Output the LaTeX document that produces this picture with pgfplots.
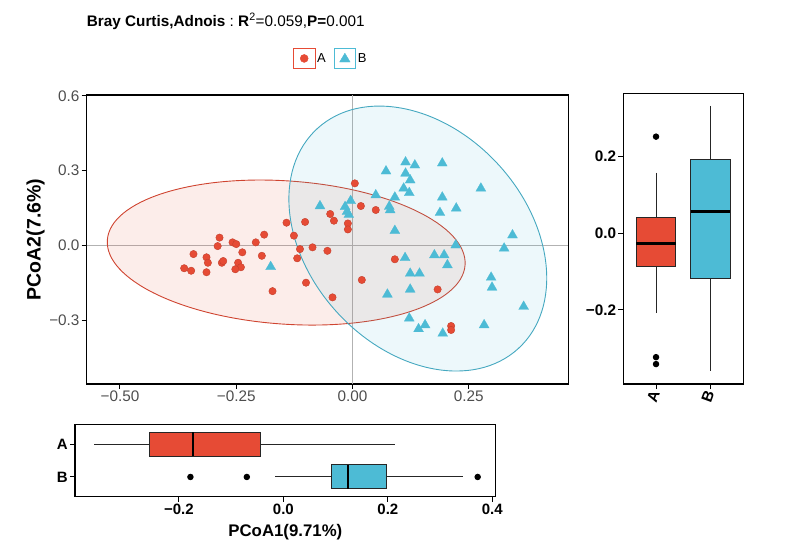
\documentclass[border=0pt]{standalone}
\usepackage{fontspec}
\setmainfont{Liberation Sans}
\usepackage{pgfplots}
\pgfplotsset{compat=1.18}
\usepgfplotslibrary{statistics}
\definecolor{cA}{HTML}{E64B35}
\definecolor{cB}{HTML}{4DBBD5}
\definecolor{txtgray}{HTML}{4D4D4D}

\pgfplotsset{
  ggframe/.style={
    scale only axis, anchor=north west,
    axis line style={line width=1.3pt, black},
    tick style={black, line width=1pt},
    tick align=outside, major tick length=5pt,
    xtick pos=lower, ytick pos=left,
    ticklabel style={font=\fontsize{15.3}{18}\selectfont, inner sep=2pt},
    /pgf/number format/assume math mode=true,
  },
}

\begin{document}
\begin{tikzpicture}
\path[use as bounding box] (0pt,0pt) rectangle (800pt,-549pt);

% title
\node[anchor=base west, inner sep=0pt, font=\fontsize{15.3}{18}\selectfont] at (86.7pt,-26pt)
  {\bfseries Bray Curtis,Adnois\mdseries\ :\ \bfseries R\mdseries\textsuperscript{2}=0.059,\bfseries P=\mdseries 0.001};

% main PCoA scatter
\begin{axis}[ggframe, at={(86.7pt,-95pt)}, width=481.6pt, height=289pt,
  xmin=-0.5716, xmax=0.464, ymin=-0.557, ymax=0.604,
  xtick={-0.5,-0.25,0,0.25}, xticklabels={−0.50,−0.25,0.00,0.25},
  ytick={-0.3,0,0.3,0.6}, yticklabels={−0.3,0.0,0.3,0.6},
  ticklabel style={text=txtgray},
  ylabel={\bfseries PCoA2(7.6\%)},
  ylabel style={font=\fontsize{19.5}{22}\selectfont, at={(axis description cs:-0.106,0.5)}, anchor=center},
  legend style={at={(axis description cs:0.507,1.089)}, anchor=south, draw=none, fill=none,
    inner sep=0pt, legend columns=2, font=\fontsize{13}{15}\selectfont,
    /tikz/every even column/.append style={column sep=6pt}},
]
\addplot[gray!60, line width=0.8pt, forget plot] coordinates {(0,-0.557) (0,0.604)};
\addplot[gray!60, line width=0.8pt, forget plot] coordinates {(-0.5716,0) (0.464,0)};

\draw[cA!90!black, line width=0.9pt, fill=cA, fill opacity=0.1,
  rotate around={-4:(axis cs:-0.1426,-0.0289)}]
  (axis cs:-0.1426,-0.0289) ellipse [x radius=179.3pt, y radius=71.6pt];
\draw[cB!90!black, line width=0.9pt, fill=cB, fill opacity=0.1,
  rotate around={-47.6:(axis cs:0.1404,0.0273)}]
  (axis cs:0.1404,0.0273) ellipse [x radius=149pt, y radius=109.4pt];

\addplot[only marks, mark=*, mark size=3.7pt,
  mark options={fill=cA, draw=cA!85!black, line width=0.4pt},
  legend image code/.code={
    \draw[cA, line width=0.7pt] (0pt,-10.3pt) rectangle (21.3pt,10.3pt);
    \fill[cA] (10.65pt,0pt) circle (4pt);}]
table {
x y
0.005 0.249
0.018 0.158
-0.048 0.126
-0.040 0.099
-0.010 0.088
-0.010 0.064
-0.142 0.091
-0.102 0.094
-0.126 0.039
-0.190 0.043
-0.208 0.012
-0.286 0.031
-0.290 -0.003
-0.258 0.012
-0.250 0.005
-0.237 -0.028
-0.195 -0.042
-0.342 -0.035
-0.314 -0.048
-0.311 -0.070
-0.281 -0.070
-0.278 -0.063
-0.246 -0.070
-0.240 -0.088
-0.252 -0.096
-0.362 -0.092
-0.347 -0.102
-0.314 -0.108
-0.172 -0.184
-0.113 -0.015
-0.086 -0.008
-0.054 -0.022
-0.119 -0.052
-0.100 -0.150
-0.043 -0.209
0.020 -0.139
0.050 0.142
0.091 -0.056
0.183 -0.177
0.212 -0.324
0.212 -0.340
};
\addlegendentry{A}

\addplot[only marks, mark=triangle*, mark size=5.8pt,
  mark options={fill=cB, draw=cB, line width=0.2pt},
  legend image code/.code={
    \draw[cB, line width=0.7pt] (0pt,-10.3pt) rectangle (21.3pt,10.3pt);
    \fill[cB] (10.65pt,5.2pt) -- (5.4pt,-3.6pt) -- (15.9pt,-3.6pt) -- cycle;}]
table {
x y
-0.070 0.158
-0.016 0.155
-0.004 0.179
-0.012 0.135
-0.008 0.123
-0.176 -0.086
0.050 0.202
0.072 0.298
0.114 0.334
0.134 0.322
0.114 0.289
0.124 0.262
0.110 0.229
0.122 0.211
0.193 0.330
0.091 0.193
0.079 0.156
0.081 0.142
0.193 0.193
0.188 0.131
0.223 0.149
0.276 0.229
0.091 0.059
0.222 0.001
0.344 0.041
0.326 -0.012
0.113 -0.050
0.176 -0.039
0.197 -0.039
0.204 -0.079
0.124 -0.113
0.144 -0.113
0.298 -0.129
0.300 -0.169
0.124 -0.177
0.075 -0.197
0.368 -0.246
0.122 -0.293
0.142 -0.336
0.156 -0.320
0.194 -0.354
0.283 -0.320
};
\addlegendentry{B}
\end{axis}

% right boxplot (PCoA2)
\begin{axis}[ggframe, at={(623.3pt,-93.3pt)}, width=120pt, height=290.7pt,
  xmin=0.4, xmax=2.6, ymin=-0.393, ymax=0.365,
  xtick={1,2}, xticklabels={A,B},
  ytick={-0.2,0,0.2}, yticklabels={−0.2,0.0,0.2},
  ticklabel style={font=\bfseries\fontsize{15.3}{18}\selectfont, text=black},
  xticklabel style={rotate=70, anchor=east},
  boxplot/draw direction=y,
]
\addplot[boxplot prepared={draw position=1, median=-0.027, upper quartile=0.042,
    lower quartile=-0.087, upper whisker=0.158, lower whisker=-0.208,
    box extend=0.72, whisker extend=0},
  fill=cA, draw=black!85, line width=1pt,
  mark=*, mark size=2.7pt, mark options={fill=black, draw=black},
  boxplot/every median/.style={line width=2.7pt, draw=black}]
coordinates {(0.252,0.252) (-0.323,-0.323) (-0.341,-0.341)};
\addplot[boxplot prepared={draw position=2, median=0.057, upper quartile=0.192,
    lower quartile=-0.118, upper whisker=0.333, lower whisker=-0.358,
    box extend=0.72, whisker extend=0},
  fill=cB, draw=black!85, line width=1pt,
  boxplot/every median/.style={line width=2.7pt, draw=black}]
coordinates {};
\end{axis}

% bottom boxplot (PCoA1)
\begin{axis}[ggframe, at={(75pt,-424.3pt)}, width=420.7pt, height=72.4pt,
  xmin=-0.399, xmax=0.4065, ymin=0.4, ymax=2.6,
  ytick={1,2}, yticklabels={B,A},
  xtick={-0.2,0,0.2,0.4}, xticklabels={−0.2,0.0,0.2,0.4},
  ticklabel style={font=\bfseries\fontsize{15}{18}\selectfont, text=black},
  xlabel={\bfseries PCoA1(9.71\%)},
  xlabel style={font=\fontsize{16.8}{20}\selectfont, at={(axis description cs:0.5,0)}, anchor=base, yshift=-40pt},
  boxplot/draw direction=x,
]
\addplot[boxplot prepared={draw position=2, median=-0.1725, upper quartile=-0.0433,
    lower quartile=-0.257, upper whisker=0.213, lower whisker=-0.362,
    box extend=0.73, whisker extend=0},
  fill=cA, draw=black!85, line width=1pt,
  boxplot/every median/.style={line width=2pt, draw=black}]
coordinates {};
\addplot[boxplot prepared={draw position=1, median=0.1246, upper quartile=0.197,
    lower quartile=0.0914, upper whisker=0.344, lower whisker=-0.016,
    box extend=0.73, whisker extend=0},
  fill=cB, draw=black!85, line width=1pt,
  mark=*, mark size=2.7pt, mark options={fill=black, draw=black},
  boxplot/every median/.style={line width=2pt, draw=black}]
coordinates {(-0.178,-0.178) (-0.070,-0.070) (0.372,0.372)};
\end{axis}
\end{tikzpicture}
\end{document}
